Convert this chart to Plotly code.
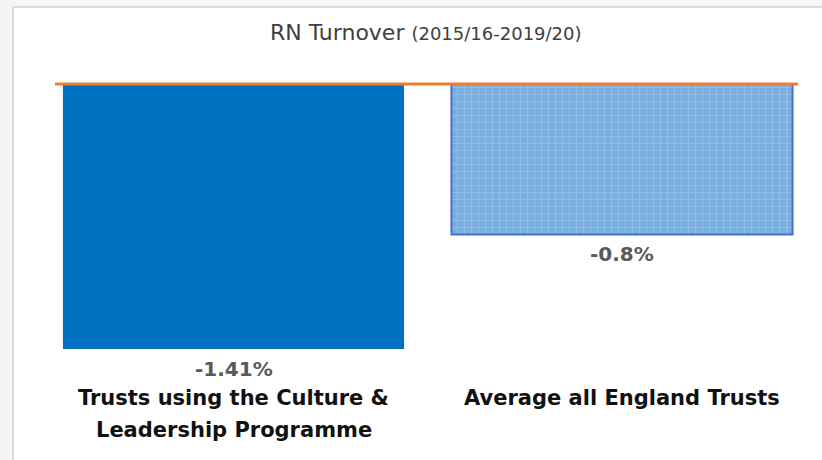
import plotly.graph_objects as go

categories = ["Trusts using the Culture &<br>Leadership Programme", "Average all England Trusts"]
values = [-1.41, -0.8]
value_labels = ["-1.41%", "-0.8%"]

W, H = 822, 460
L, R, T, B = 55, 798, 70, 380  # plot area in px

def px_x(p):
    return (p - L) / (R - L)

def px_y(p):
    return (B - p) / (B - T)

fig = go.Figure()
fig.add_trace(go.Bar(
    x=[0], y=[values[0]], width=0.878,
    marker=dict(color="#0070C0", line=dict(color="#0070C0", width=0)),
    hoverinfo="skip",
))
fig.add_trace(go.Bar(
    x=[1], y=[values[1]], width=0.878,
    marker=dict(color="#7DB2E2", line=dict(color="#4472C4", width=2),
                pattern=dict(shape="+", fgcolor="#A9CCEE", bgcolor="#78AEE0", size=7, solidity=0.3)),
    hoverinfo="skip",
))

annotations = []
for i, (v, t) in enumerate(zip(values, value_labels)):
    annotations.append(dict(x=i, y=v, text="<b>" + t + "</b>", showarrow=False, yanchor="middle", yshift=-20,
                            font=dict(family="DejaVu Sans", size=20, color="#595959")))
for i, c in enumerate(categories):
    for j, line in enumerate(c.split("<br>")):
        annotations.append(dict(x=i, y=px_y(398 + 32 * j), yref="paper", text="<b>" + line + "</b>",
                                showarrow=False, yanchor="middle",
                                font=dict(family="DejaVu Sans", size=21, color="#111111")))
annotations.append(dict(x=px_x(426), xref="paper", y=px_y(33), yref="paper", yanchor="middle",
                        text="RN Turnover <span style='font-size:18px'>(2015/16-2019/20)</span>",
                        showarrow=False, font=dict(family="DejaVu Sans", size=22, color="#404040")))

shapes = [
    dict(type="rect", xref="paper", yref="paper", x0=px_x(13), x1=px_x(830), y0=px_y(470), y1=px_y(7),
         fillcolor="white", line=dict(color="#DADADA", width=2), layer="below"),
    dict(type="line", xref="paper", yref="y", x0=0, x1=1, y0=0, y1=0,
         line=dict(color="#ED7D31", width=3)),
]

px_per_unit = 188
fig.update_layout(
    width=W, height=H,
    margin=dict(l=L, r=W - R, t=T, b=H - B),
    paper_bgcolor="#F5F5F5", plot_bgcolor="rgba(0,0,0,0)",
    showlegend=False,
    barmode="overlay",
    xaxis=dict(range=[-(233.5 - L) / 388.5, 1 + (R - 622) / 388.5], showticklabels=False,
               showgrid=False, zeroline=False, showline=False),
    yaxis=dict(range=[-(B - 84) / px_per_unit, (84 - T) / px_per_unit], showticklabels=False,
               showgrid=False, zeroline=False, showline=False),
    annotations=annotations, shapes=shapes,
)
fig.write_html("out.html")
